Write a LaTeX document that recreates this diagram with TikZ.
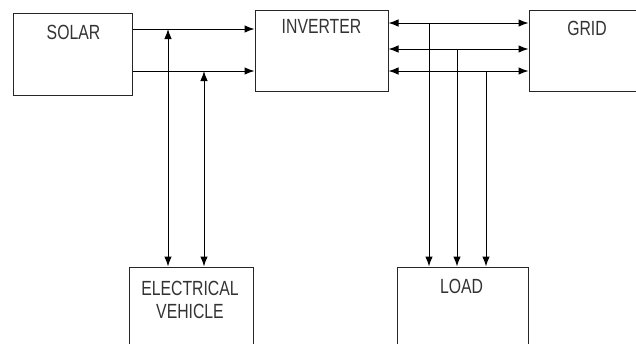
\documentclass[tikz,border=0pt]{standalone}
\usepackage{fontspec}
\setmainfont{Liberation Sans}[FakeStretch=0.77]
\usetikzlibrary{arrows.meta}

\tikzset{
    blockbox/.style={draw=black!85, line width=1pt, inner sep=0pt},
    blocktext/.style={anchor=base, text=black!80, inner sep=0pt, font=\fontsize{20.5}{23}\selectfont},
    flowarr/.style={black, line width=1pt, -{Latex[length=10pt,width=7.5pt]}},
    bothwayarr/.style={black, line width=1pt, {Latex[length=10pt,width=7.5pt]}-{Latex[length=10pt,width=7.5pt]}}
}

\begin{document}
\begin{tikzpicture}[x=1pt, y=-1pt]
    % Page size of the picture
    \useasboundingbox (0,0) rectangle (636,343);
    \clip (0,0) rectangle (636,343);

    % Draw the blocks
    \node[blockbox, minimum width=119pt, minimum height=82pt] (solar) at (72.5,54) {};
    \node[blockbox, minimum width=133pt, minimum height=81pt] (inverter) at (321.5,50.5) {};
    \node[blockbox, minimum width=116pt, minimum height=81pt] (grid) at (587,50.5) {};
    \node[blockbox, minimum width=124pt, minimum height=81pt] (ev) at (191,307.5) {};
    \node[blockbox, minimum width=131pt, minimum height=81pt] (load) at (462.5,307.5) {};

    % Block titles near the top edge
    \node[blocktext] (solartext) at (73.5,39) {SOLAR};
    \node[blocktext] (invertertext) at (321.5,33) {INVERTER};
    \node[blocktext] (gridtext) at (587,35) {GRID};
    \node[blocktext] (evtext) at (190,295) {ELECTRICAL};
    \node[blocktext] (evtexttwo) at (190,318) {VEHICLE};
    \node[blocktext] (loadtext) at (461.5,293) {LOAD};

    % Junction points on the power lines
    \coordinate (solarA) at (168,29);
    \coordinate (solarB) at (204,71);
    \coordinate (gridA) at (429,23);
    \coordinate (gridB) at (457,49);
    \coordinate (gridC) at (486,71);

    % Solar feeds the inverter
    \draw[flowarr] (solar.east |- solarA) -- (inverter.west |- solarA);
    \draw[flowarr] (solar.east |- solarB) -- (inverter.west |- solarB);

    % Vehicle charging lines, both ways
    \draw[bothwayarr] (ev.north -| solarA) -- (solarA);
    \draw[bothwayarr] (ev.north -| solarB) -- (solarB);

    % Inverter and grid exchange power
    \foreach \j in {gridA, gridB, gridC} {
        \draw[bothwayarr] (inverter.east |- \j) -- (grid.west |- \j);
    }

    % Taps down to the load
    \foreach \j in {gridA, gridB, gridC} {
        \draw[flowarr] (\j) -- (load.north -| \j);
    }
\end{tikzpicture}
\end{document}
